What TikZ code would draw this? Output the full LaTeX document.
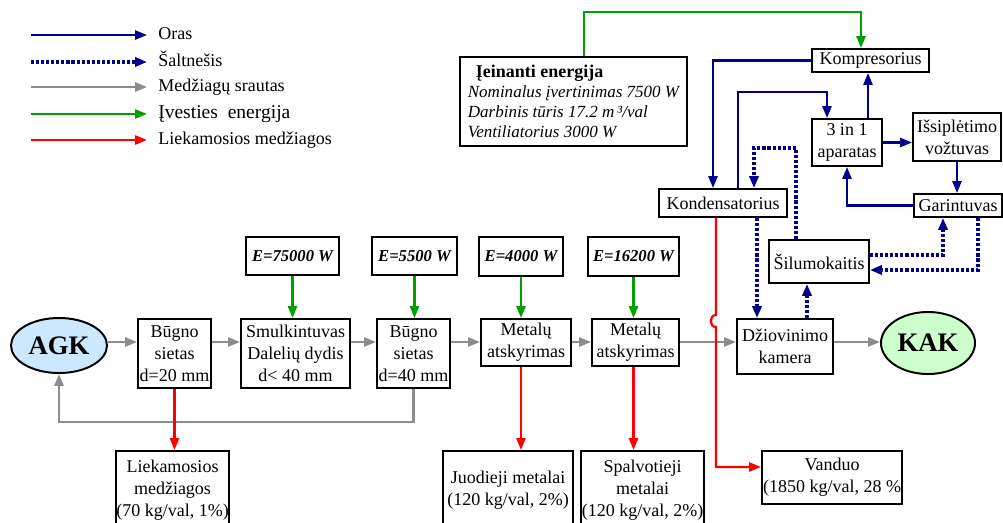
\documentclass[tikz,border=0pt]{standalone}
\usepackage{fontspec}
\setmainfont{Liberation Serif}
\usepackage{xcolor}
\usepackage{tikz}
\usetikzlibrary{arrows.meta, positioning, shapes.geometric, calc}
\definecolor{flow_navy}{RGB}{0, 0, 140}
\definecolor{flow_gray}{RGB}{140, 140, 140}
\definecolor{flow_green}{RGB}{0, 160, 0}
\definecolor{flow_red}{RGB}{255, 0, 0}
\definecolor{agk_fill}{RGB}{204, 232, 255}
\definecolor{kak_fill}{RGB}{204, 255, 204}

\begin{document}
\begin{tikzpicture}[x=0.025cm, y=-0.025cm,
    box/.style={draw, line width=1.4pt, inner sep=0pt, align=center, font=\fontsize{12.8}{15.6}\selectfont},
    ebox/.style={box, font=\fontsize{11.8}{14}\selectfont\bfseries\itshape},
    endpt/.style={ellipse, draw, line width=1.4pt, inner sep=0pt, font=\fontsize{19}{22}\selectfont\bfseries},
    legend/.style={inner sep=0pt, anchor=west, text height=1.6ex, text depth=0.3ex, font=\fontsize{12.8}{15}\selectfont},
    tip/.style={-{Triangle[length=8.5pt, width=6.5pt]}},
    airflow/.style={tip, draw=flow_navy, line width=1.6pt},
    coolflow/.style={tip, draw=flow_navy, line width=2.4pt, dash pattern=on 2.2pt off 1.4pt},
    matflow/.style={tip, draw=flow_gray, line width=1.6pt},
    energyflow/.style={tip, draw=flow_green, line width=1.6pt},
    restflow/.style={tip, draw=flow_red, line width=1.6pt}]
        \clip (0,0) rectangle (1003,522);

        % Legend
        \foreach \sty/\txt/\yy [count=\i] in {airflow/Oras/35, coolflow/Šaltnešis/62, matflow/{Medžiagų srautas}/87,
            energyflow/{\fontsize{13.9}{16}\selectfont Įvesties\ \ energija}/114, restflow/{Liekamosios medžiagos}/140}
          { \node[legend] (leg\i) at (158,\yy) {\txt};
            \coordinate (legS\i) at (31,\yy);
            \draw[\sty] (legS\i) -- ($(leg\i.west)+(-11,0)$); }

        % Main line : shredding and sorting
        \node[endpt, fill=agk_fill, minimum width=2.4cm, minimum height=1.375cm] (agk) at (59,345.5) {AGK};
        \node[box, minimum width=1.825cm, minimum height=1.725cm] (bugnoA) at (174.5,353.5) {Būgno\\sietas\\d=20 mm};
        \node[box, minimum width=2.725cm, minimum height=1.725cm] (smulk) at (295.5,353.5) {Smulkintuvas\\Dalelių dydis\\d< 40 mm};
        \node[box, minimum width=1.825cm, minimum height=1.725cm] (bugnoB) at (413.5,353.5) {Būgno\\sietas\\d=40 mm};
        \node[box, minimum width=2.25cm, minimum height=1.175cm] (metA) at (526,342.5) {Metalų\\atskyrimas};
        \node[box, minimum width=2.175cm, minimum height=1.175cm] (metB) at (635.5,342.5) {Metalų\\atskyrimas};
        \node[box, minimum width=2.4cm, minimum height=1.375cm] (dziov) at (785,346.5) {Džiovinimo\\kamera};
        \node[endpt, fill=kak_fill, minimum width=2.35cm, minimum height=1.55cm] (kak) at (928,343) {KAK};

        % Energy inputs
        \node[ebox, minimum width=2.325cm, minimum height=0.95cm] (eA) at (292.5,256) {E=75000 W};
        \node[ebox, minimum width=2.125cm, minimum height=0.95cm] (eB) at (414.5,256) {E=5500 W};
        \node[ebox, minimum width=2.1cm, minimum height=0.975cm] (eC) at (521,256.5) {E=4000 W};
        \node[ebox, minimum width=2.275cm, minimum height=0.975cm] (eD) at (633.5,256.5) {E=16200 W};

        % Outputs
        \node[box, minimum width=2.825cm, minimum height=1.975cm] (liek) at (172.5,490.5) {Liekamosios\\medžiagos\\(70 kg/val, 1\%)};
        \node[box, minimum width=3.25cm, minimum height=1.975cm] (juod) at (508,490.5) {Juodieji metalai\\(120 kg/val, 2\%)};
        \node[box, minimum width=3.075cm, minimum height=1.975cm] (spalv) at (642.5,490.5) {Spalvotieji\\metalai\\(120 kg/val, 2\%)};
        \node[box, minimum width=3.5cm, minimum height=1.325cm] (vanduo) at (832,477.5) {Vanduo\\(1850 kg/val, 28 \%};

        % Heat pump dryer
        \node[box, minimum width=5.675cm, minimum height=2.225cm, align=left, font=\fontsize{12.1}{14.2}\selectfont] (energ) at (573.5,101.5)
          {\hspace*{0.2cm}{\fontsize{12.8}{14.2}\selectfont\bfseries Įeinanti energija}\\
           \itshape Nominalus įvertinimas 7500 W\\
           \itshape Darbinis tūris 17.2 m\,³/val\\
           \itshape Ventiliatorius 3000 W};
        \node[box, minimum width=2.925cm, minimum height=0.575cm] (kompr) at (870.5,60.5) {Kompresorius};
        \node[box, minimum width=1.75cm, minimum height=1.175cm] (trys) at (847,142.5) {3 in 1\\aparatas};
        \node[box, minimum width=2.2cm, minimum height=1.2cm] (issipl) at (957,137) {Išsiplėtimo\\vožtuvas};
        \node[box, minimum width=2.2cm, minimum height=0.575cm] (garin) at (958,205.5) {Garintuvas};
        \node[box, minimum width=3.2cm, minimum height=0.7cm] (kond) at (723,203) {Kondensatorius};
        \node[box, minimum width=2.5cm, minimum height=1.075cm] (silum) at (819,261.5) {Šilumokaitis};

        % Material flow
        \coordinate (lvl) at (0,342);
        \coordinate (ret) at (0,422);
        \foreach \a/\b in {agk/bugnoA, bugnoA/smulk, smulk/bugnoB, bugnoB/metA, metA/metB, metB/dziov, dziov/kak}
          { \draw[matflow] (\a.east |- lvl) -- (\b.west |- lvl); }
        \draw[matflow] (bugnoB.south) -- (bugnoB.south |- ret) -| (agk.south);

        % Energy flow
        \foreach \e/\t in {eA/smulk, eB/bugnoB, eC/metA, eD/metB}
          { \draw[energyflow] (\e.south) -- (\e.south |- \t.north); }
        \coordinate (eOut) at ($(energ.north)+(10.5,0)$);
        \coordinate (cIn) at ($(kompr.north)+(-9.5,0)$);
        \draw[energyflow] (eOut) -- ++(0,-44) -| (cIn);

        % Residues
        \draw[restflow] (bugnoA.south) -- (bugnoA.south |- liek.north);
        \draw[restflow] (eC.south |- metA.south) -- (eC.south |- juod.north);
        \draw[restflow] (eD.south |- metB.south) -- (eD.south |- spalv.north);
        \coordinate (kRed) at ($(kond.south)+(-7,0)$);
        \coordinate (vIn) at ($(vanduo.west)+(0,-10.5)$);
        \coordinate (jumpA) at (0,315);
        \coordinate (jumpB) at (0,327);
        \draw[restflow] (kRed) -- (kRed |- jumpA) .. controls +(-7,0) and +(-7,0) .. (kRed |- jumpB)
          -- (kRed |- vIn) -- (vIn);

        % Air loop
        \coordinate (kIn) at ($(kond.north)+(-10,0)$);
        \coordinate (kOut) at ($(kond.north)+(15,0)$);
        \coordinate (tIn) at ($(trys.north)+(-20,0)$);
        \coordinate (tOut) at ($(trys.north)+(21,0)$);
        \draw[airflow] (kompr.west) -| (kIn);
        \draw[airflow] (kOut) -- ++(0,-96) -| (tIn);
        \draw[airflow] (tOut) -- (tOut |- kompr.south);
        \draw[airflow] (trys.east) -- (trys.east -| issipl.west);
        \draw[airflow] (issipl.south) -- (issipl.south |- garin.north);
        \draw[airflow] (garin.west) -| (trys.south);

        % Refrigerant loop
        \coordinate (kDown) at ($(kond.south)+(34,0)$);
        \coordinate (kTop) at ($(kond.north)+(31,0)$);
        \coordinate (sUp) at ($(silum.north)+(-23,0)$);
        \coordinate (dUp) at ($(dziov.north)+(22,0)$);
        \coordinate (sR1) at ($(silum.east)+(0,-6.5)$);
        \coordinate (sR2) at ($(silum.east)+(0,8.5)$);
        \coordinate (gIn) at ($(garin.south)+(-15,0)$);
        \coordinate (gOut) at ($(garin.south)+(20,0)$);
        \draw[coolflow] (kDown) -- (kDown |- dziov.north);
        \draw[coolflow] (sUp) -- ++(0,-91) -| (kTop);
        \draw[coolflow] (dUp) -- (dUp |- silum.south);
        \draw[coolflow] (sR1) -| (gIn);
        \draw[coolflow] (gOut) |- (sR2);
      \end{tikzpicture}
\end{document}
